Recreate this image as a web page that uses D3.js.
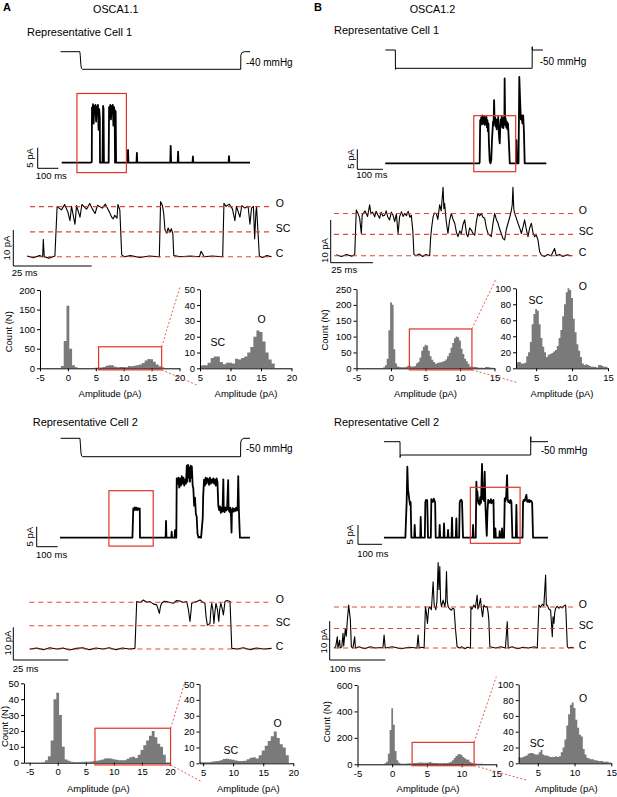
<!DOCTYPE html>
<html>
<head>
<meta charset="utf-8">
<script src="https://cdn.jsdelivr.net/npm/d3@7"></script>
<style>
body { margin: 0; background: #fff; }
text { font-family: "Liberation Sans", Arial, sans-serif; fill: #000; }
</style>
</head>
<body>
<script>
// ---------- data: [time (ms), value] ----------
// pressure steps (mmHg)
const a1Press = [[-5,0],[88,0],[90,-8],[93,-30],[96,-38],[100,-40],[869,-40],[869.5,-8],[875,-2],[887,0],[914,0]];
const b1Press = [[0,0],[39,0],[39.5,-53],[40.5,-50],[571,-50],[571.2,9],[571.4,0],[613,0]];
const a2Press = [[3,0],[95,0],[97,-15],[100,-40],[103,-48],[108,-50],[860,-50],[861,-10],[866,-3],[875,0],[905,0]];
const b2Press = [[0,0],[66.7,0],[67,-59],[68.5,-50],[611,-50],[611.2,19],[611.4,0],[683,0]];

// raw current traces (pA)
const a1Trace = [[0,0],[140,0],[146,0.2],[147,13.4],[150,11.5],[152,14.2],[155,9.5],[158,13.8],[161,12],[164,14],[167,10],[170,13.6],[173,12.5],[176,14],[179,8],[182,13],[185,11],[186,0],[198,0],[201,13.8],[203,13],[205,0],[228,0],[230,13.5],[233,11],[236,14],[239,10.5],[242,13.8],[245,12],[248,14],[251,9],[254,13.5],[257,12.5],[259,0],[261,0],[262,12.5],[264,0],[320,0],[322,3.1],[324,0],[363,0],[365,2.4],[367,0],[527,0],[529,4.1],[531,0],[563,0],[565,2.7],[567,0],[635,0],[637,1.5],[639,0],[810,0],[812,1.6],[814,0],[914,0]];
const b1Trace = [[0,0],[365,0],[367,0.3],[369,10.8],[371,9.5],[373,11.5],[375,10],[377,12],[379,9.8],[381,11.2],[383,10.3],[385,11.8],[387,9.6],[389,11],[391,10.2],[393,11.6],[395,9],[397,10.8],[399,8],[401,10],[403,5],[406,0.5],[409,0],[412,0.8],[415,6],[419,10.5],[421,9.5],[423,15.8],[425,10.2],[427,11.5],[429,9.2],[431,11],[433,8.5],[435,10.8],[437,9.5],[439,11.6],[441,8],[443,6],[445,5],[447,9],[449,11],[451,9.4],[453,11.8],[455,9],[457,10.6],[459,8.8],[461,11.5],[463,9.6],[464,21.2],[466,10],[468,11.2],[470,9],[472,10.5],[474,8.6],[477,10],[480,6],[484,0],[508,0],[510,5.8],[512,0],[518,0],[521,21.6],[524,16],[527,11],[530,12],[533,10],[536,12],[539,8],[542,0],[626,0]];
const a2Trace = [[0,0],[345,0],[349,7.3],[352,6.8],[356,7.6],[360,7],[364,7.5],[368,6.9],[372,7.4],[376,7],[380,7.3],[381,0],[503,0],[505,4.2],[507,0],[530,0],[532,1.5],[534,0],[546,0],[548,1.9],[550,0],[554,0],[556,14.8],[560,13.5],[564,15],[568,12.5],[572,14.8],[576,13],[580,15.4],[584,13.5],[588,15],[592,13],[596,14.5],[600,13.5],[604,18],[607,14],[610,18.2],[613,15],[616,17.5],[619,14],[622,18],[625,15],[628,17.8],[632,13],[635,12.4],[639,8],[643,10],[647,6],[651,5.3],[655,1],[660,0],[667,0.2],[672,0],[680,5],[682,10.4],[686,14.5],[690,13],[694,15],[698,13.5],[702,14.8],[706,14.6],[710,13.2],[714,15],[718,13.5],[722,14.5],[726,13.8],[730,14.8],[734,13.5],[738,14.6],[742,13],[746,14.8],[750,14],[754,8],[758,6.9],[762,7.8],[766,6.2],[770,7.5],[774,6.5],[778,14.6],[780,7],[784,6.4],[788,7.6],[792,6.8],[796,7.3],[801,14.4],[803,7],[807,6.5],[811,7.5],[815,5],[817,1.3],[819,6.8],[823,7.4],[827,6.5],[831,7.2],[835,6.7],[839,7.5],[843,6.8],[846,7],[849,15.4],[852,7],[857,0],[905,0]];
const b2Trace = [[0,0],[88.9,0],[94.4,9.3],[97.2,18.4],[100,12.5],[102.8,11.1],[105.5,9.8],[108.3,8.5],[111,9.2],[113.9,0],[126,0],[127.8,3.3],[130,0],[151,0],[152.8,5.4],[155,0],[170,0],[172.2,9.2],[175,9.8],[177.8,9.5],[180,9.7],[183.3,0],[195,0],[197.2,10],[200,9.4],[204.2,9.3],[207,10.1],[211.1,9.5],[213,9],[215.3,0],[230,0],[231.9,3.3],[234,0],[248,0],[250,3.7],[252,0],[265,0],[266.7,2],[268.5,0],[281,0],[283.3,5.2],[285.5,0],[299,0],[301.4,5],[303.5,0],[313,0],[315.3,9],[318,9.7],[322.2,9.8],[325,9.3],[329.2,0],[369,0],[371,3.3],[373,0],[382,0],[384.7,14.5],[387,10],[389,12],[391.7,9.3],[394,8.8],[396,9.6],[398.6,8.5],[401,10.5],[404,9],[408.3,19.1],[411,10],[413.9,11.1],[416,9.5],[419.4,17.1],[422,9],[424,6],[426.4,2.4],[428,0.5],[431,7],[434,9.8],[437,9],[440.3,9.5],[443,9.2],[445,10],[447.2,8.9],[450,9.6],[452,9.1],[454.2,9.3],[456,9.8],[458.3,0],[462,0],[463.9,2.4],[466,0],[480,0],[481.9,1.7],[484,0],[489.5,0],[491.7,2.4],[494,0],[500,0],[502.8,10.2],[506,9.5],[509,11],[512.5,16.2],[515,10],[518,9.2],[520.8,9.5],[524,9],[527,9.8],[530.6,9.3],[534.7,0],[549,0],[551.4,8.5],[553.5,0],[577,0],[579.2,9.3],[582,9.8],[586.1,9.5],[589,10.2],[593,11.1],[596,9.4],[600,9.3],[604,9.8],[607,9.2],[610,9.6],[613.9,9.5],[617,9],[620.8,0],[683,0]];

// expanded traces (pA)
const a1Zoom = [[0,0.2],[2,-0.3],[4,0.3],[5,0],[5.2,4.8],[5.5,0],[7,-0.4],[8.9,0.2],[9.6,13.9],[11,13],[12,14.5],[13,12.5],[13.7,10],[14.2,14],[15.3,9],[15.8,14.2],[16.9,11],[17.5,14.5],[19,13.2],[20,14.8],[21,13],[21.7,12],[22.5,14.3],[24,13.5],[25,14.6],[26.5,12],[27,11],[27.5,10.5],[28,11.5],[28.7,10.7],[29,14.5],[29.6,13],[30.2,0.5],[31,0],[33,0.3],[36,-0.2],[39,0.2],[42.2,0],[42.6,15.3],[43.2,14.2],[43.6,12],[44,7.5],[44.6,6.5],[45,8],[45.6,6.8],[46,7.8],[46.5,6.5],[46.8,0.3],[49,0],[52,0.2],[55,0],[55.5,1.5],[56.5,0],[59,0.2],[62.4,0],[62.8,14.8],[63.5,14],[64.5,14.6],[65.5,13.3],[66.3,10],[66.8,14],[67.9,11],[68.5,14.2],[69.5,13.5],[70.5,14],[71.1,9],[71.6,13.5],[72.2,14],[72.6,5],[73,12.5],[73.2,13.9],[74.1,0.2],[75,-0.2],[76.5,0.3],[78,0]];
const b1Zoom = [[0,0.2],[3,-0.2],[6,0.3],[9,-0.1],[10.9,0.2],[11.8,10.7],[12.8,9.9],[13.8,8.8],[14.8,5.2],[15.3,9.5],[17,10.5],[18.5,9.2],[19.7,11.9],[20.5,9.8],[21.5,10.2],[22.7,9.1],[23.5,10.4],[24.5,9.6],[25.6,8.75],[26.5,10.2],[27.5,9.3],[28.6,9.5],[29.5,10.5],[30.5,9],[31.5,8.4],[32.5,10.2],[33.5,9.5],[34.5,8],[35.5,9.8],[36.5,5.2],[37.4,9.1],[38.5,10.3],[39.5,9.2],[40.4,9.9],[41.5,9.4],[42.5,10.4],[43.5,9],[44.3,9.5],[45.2,6],[45.9,0.3],[47,0],[49,0.4],[51,-0.2],[53,0.3],[55.2,0],[55.8,4.5],[56.5,7],[57.2,9.1],[58,10],[59.1,9.9],[60,8.5],[61.1,11.9],[62,10.5],[63.1,16],[63.6,11],[64,12.3],[65,8],[66,5.2],[67,8.4],[68,9.9],[69,8.5],[70,7.6],[71,5.5],[71.9,4.45],[73,5.8],[73.9,5.2],[75,7.5],[75.9,8.4],[77,5],[77.8,4.45],[78.8,6.5],[79.8,6],[80.8,5.2],[81.8,4.8],[82.8,8],[83.7,9.9],[84.7,9.3],[85.7,9.9],[86.7,9],[87.7,8.75],[88.7,6.5],[89.7,5.2],[90.6,4.8],[91.6,4.45],[92.6,7.5],[93.6,9.9],[94.6,8.5],[95.6,7.6],[96.5,6.3],[97.5,5.2],[98.5,4],[99.5,3.7],[100.5,6.2],[101.5,7.6],[102.5,9],[103.5,10.7],[104,12],[104.4,16],[104.9,11],[105.4,9.9],[106.4,8.8],[107.4,7.6],[108.4,6.5],[109.4,5.2],[110.4,6.8],[111.3,8.4],[112.3,6.2],[113.3,4.45],[114.3,6.5],[115.3,7.6],[116.2,5.5],[117.2,4.45],[118.2,4.8],[119.2,3.7],[120.2,0.9],[121.2,0.15],[123,-0.2],[125,0.3],[127,0],[129,1.7],[130,0],[132,0.3],[134,-0.2],[136.5,0.2],[138.9,0]];
const a2Zoom = [[0,0],[3,0.3],[6,-0.2],[9,0.4],[12,0],[15,0.3],[18,-0.3],[21,0.2],[24,0.4],[27,-0.2],[30,0.3],[33,0],[36,0.4],[39,-0.2],[42,0.3],[45,0],[47.7,0.2],[48.5,14.5],[50,14.2],[51.5,15],[53,14.3],[54.5,14.5],[56,13.8],[57.6,13.5],[58.3,12],[58.8,10.9],[59.3,13],[59.8,14],[61,14.6],[62.1,14.5],[63.5,14.2],[65.2,14],[66.5,14.8],[68.2,14.7],[69.5,14.2],[71.2,14.5],[72,12],[72.7,8.4],[73.1,11],[73.5,14],[75,14.4],[75.8,14.5],[77.3,15],[78.5,14.3],[79.5,14],[80,10],[80.6,7.3],[81.2,7.5],[81.8,7.85],[82.2,12],[82.6,14],[83.1,12],[83.6,7.8],[84,11],[84.5,14],[85.2,12],[85.8,8.4],[86.2,12],[86.7,14],[87.3,12.5],[87.9,10.4],[88.6,14.5],[89.5,14.8],[90.2,14.7],[90.9,14.5],[91.7,0.2],[94,0],[97,0.4],[100,-0.2],[103,0.3],[106,0],[109.8,0.2]];
const b2Zoom = [[0,0],[3,0.3],[6,2.9],[7,0],[10.2,2],[11,0],[14,0.3],[16.2,3.8],[17.5,0.5],[20.4,5],[22,3],[24,7.2],[26.4,11],[29.4,7.2],[31.2,0.3],[34,0],[37.2,2.9],[38.5,0],[45,0.3],[55,-0.2],[65,0.3],[75,0],[88,0.2],[90,3.3],[92,0],[105,0.3],[120,-0.2],[135,0.2],[149,0],[151.1,3.3],[153,0],[158,0.2],[161.9,0],[164.3,10.6],[166,9],[167.9,6.3],[170,10],[172.1,10.6],[175,9.8],[178.1,17],[180,11],[181.1,10.6],[183,9.8],[185,12],[187.1,21.9],[188.5,15],[190.1,20.9],[191.5,12],[193.1,10.6],[196.1,12.3],[199.1,10.6],[200.5,12],[202.1,19.6],[203.5,12],[205.1,10.6],[208,10],[211.1,9.7],[213,10.2],[215.8,10],[218.2,5],[221.2,0.3],[225,0],[230,0.3],[235,-0.2],[240,0.2],[245.2,0],[246,10.6],[248,10],[251.2,11],[254,10.3],[257.2,13.6],[258.5,10],[260.2,10.6],[263.2,12.7],[265,10],[267,8],[269.2,11],[272,10.5],[275.2,10.6],[277,9],[278.2,7.2],[280,0.3],[290,0],[300,0.3],[308,0],[311.3,6.75],[313,0],[320,0.3],[330,-0.2],[340,0.2],[350,0],[360,0.3],[365.2,0],[368.2,11],[371,10.5],[374.2,11.2],[377,10.8],[380.2,18.7],[381.5,11],[383.2,11],[386,10],[389.2,9.7],[392.2,2.9],[393.5,8],[395.2,6.3],[396.5,9],[398.2,10.2],[401,10.7],[404,10.2],[407.2,10.6],[410,10.3],[413,10.8],[416.2,11],[419.2,0.3],[422,0],[426,0.2],[431,0]];

// current levels C, SC, O (pA)
const levelNames = ['C', 'SC', 'O'];
const a1Levels = [0, 6.9, 13.9];
const b1Levels = [0, 5.0, 9.9];
const a2Levels = [0, 7.1, 14.3];
const b2Levels = [0, 5.0, 10.5];

// amplitude histograms: counts per bin, bins centred from *Start in steps of *Bin (pA)
const a1Start = -1.5, a1Bin = 0.5;
const a1Counts = [0.5,6,70,160,50,8,3,1,0.4,0.4,0.4,0.4,0.4,1.5,2,2,3.5,6.5,7.5,7.5,4,2.5,3.5,3.5,3,6,5.5,6.5,7.5,10,13.5,20,24,23,17,10,5.5,3,0];
const b1Start = -1.25, b1Bin = 0.25;
const b1Counts = [1,3,10,30,120,208,200,60,15,6,4,3,3,3,5,8,8,6,6,7,15,20,33,55,68,74,72,55,38,27,20,14,17,18,19,21,23,28,38,48,65,80,95,100,98,88,62,45,30,22,14,6,4,5,4,3,2,2,2,1,4,4,3,2,2,1];
const a2Start = -2.5, a2Bin = 0.5;
const a2Counts = [0.3,1.5,4,14,40,44,30,10,2,1.2,0.6,0.5,0.5,0.5,0.6,0.6,0.6,0.7,1,1.3,1.5,2,2.7,2.8,2.6,2.2,1.8,1.5,1.5,1.6,2.5,3.5,3.8,3,5,8,11,14,17,20,16,12,10,5,0];
const b2Start = -1.25, b2Bin = 0.25;
const b2Counts = [3,8,20,80,260,425,300,100,30,12,7,5,5,6,7,8,7,8,9,10,12,13,13,12,11,11,14,17,11,10,10,9,8,8,8,9,8,9,14,20,30,48,62,74,77,70,55,45,36,34,18,11,7,6,5,5,4,4,3,3,3,2,2,2,1,1];

// tick values
const a1HistY = [0,50,100,150,200], a1InsetY = [0,10,20,30,40,50];
const b1HistY = [0,50,100,150,200,250], b1InsetY = [0,20,40,60,80,100];
const a2HistY = [0,10,20,30,40,50], a2InsetY = [0,10,20,30,40,50];
const b2HistY = [0,200,400,600], b2InsetY = [0,20,40,60,80,100];
const aAmpTicks = [-5,0,5,10,15,20], aInsetTicks = [5,10,15,20];
const bAmpTicks = [-5,0,5,10,15], bInsetTicks = [5,10,15];

// ---------- drawing ----------
const svg = d3.select('body').append('svg').attr('width', 617).attr('height', 797);
const red = '#e0342b';
const font = '"Liberation Sans", Arial, sans-serif';
let clipN = 0;

function label(g, x, y, s, size, anchor) {
  return g.append('text').attr('x', x).attr('y', y).attr('font-size', size || 10)
    .attr('text-anchor', anchor || 'start').text(s);
}
function vlabel(g, x, y, s, size) {
  return g.append('text').attr('transform', `translate(${x},${y}) rotate(-90)`)
    .attr('font-size', size || 10).attr('text-anchor', 'middle').text(s);
}
function scaleBar(g, x, y, w, h) {
  g.append('path').attr('d', `M${x},${y - h}V${y}H${x + w}`)
    .attr('fill', 'none').attr('stroke', '#000').attr('stroke-width', 1);
}
function line(xs, ys) {
  return d3.line().x(d => xs(d[0])).y(d => ys(d[1]));
}

function histo(g, counts, start, bw, xs, ys) {
  const pts = [];
  counts.forEach((n, i) => {
    const a = start + i * bw - bw / 2;
    pts.push([a, n], [a + bw, n]);
  });
  const id = 'clip' + (clipN++);
  const r = xs.range(), top = ys.range()[1];
  g.append('clipPath').attr('id', id).append('rect')
    .attr('x', r[0]).attr('y', top - 30).attr('width', r[1] - r[0]).attr('height', ys(0) - top + 30);
  const area = d3.area().x(d => xs(d[0])).y0(ys(0)).y1(d => ys(d[1]));
  g.append('path').attr('d', area(pts)).attr('fill', '#7a7a7a').attr('clip-path', `url(#${id})`);
}
function axes(g, xs, ys, xt, yt) {
  const fmt = d => String(d);
  g.append('g').attr('transform', `translate(0,${ys(0)})`)
    .call(d3.axisBottom(xs).tickValues(xt).tickFormat(fmt).tickSize(3).tickSizeOuter(0).tickPadding(3))
    .attr('font-size', 9.5).attr('font-family', font);
  g.append('g').attr('transform', `translate(${xs.range()[0]},0)`)
    .call(d3.axisLeft(ys).tickValues(yt).tickFormat(fmt).tickSize(3).tickSizeOuter(0).tickPadding(2))
    .attr('font-size', 9.5).attr('font-family', font);
}

function cell(c) {
  const g = svg.append('g');
  label(g, c.title[0], c.title[1], c.titleText, 11);

  // pressure + raw trace share the time axis
  const tx = d3.scaleLinear().domain(c.tDom).range(c.tRange);
  const ty = d3.scaleLinear().domain([0, 5]).range([c.base, c.base - 5 * c.pxA]);
  const py = d3.scaleLinear().domain([0, c.pLevel]).range(c.pY);
  g.append('path').attr('d', line(tx, py)(c.press))
    .attr('fill', 'none').attr('stroke', '#000').attr('stroke-width', 1);
  label(g, c.pLab[0], c.pLab[1], c.pText, 10);
  g.append('path').attr('d', line(tx, ty)(c.trace))
    .attr('fill', 'none').attr('stroke', '#000').attr('stroke-width', 1.8).attr('stroke-linejoin', 'round');
  g.append('rect').attr('x', tx(c.box[0])).attr('y', ty(c.box[3]))
    .attr('width', tx(c.box[1]) - tx(c.box[0])).attr('height', ty(c.box[2]) - ty(c.box[3]))
    .attr('fill', 'none').attr('stroke', red).attr('stroke-width', 1.2);
  scaleBar(g, c.bar[0], c.bar[1], tx(c.tDom[0] + 100) - tx(c.tDom[0]), ty(0) - ty(5));
  vlabel(g, c.barV[0], c.barV[1], '5 pA', 9.5);
  label(g, c.barH[0], c.barH[1], '100 ms', 9.5);

  // expanded trace
  const zx = d3.scaleLinear().domain(c.zDom).range(c.zRange);
  const zy = d3.scaleLinear().domain([0, 10]).range([c.zBase, c.zBase - 10 * c.zpxA]);
  g.append('path').attr('d', line(zx, zy)(c.zoom))
    .attr('fill', 'none').attr('stroke', '#000').attr('stroke-width', 1.1).attr('stroke-linejoin', 'round');
  c.levels.forEach((v, i) => {
    g.append('line').attr('x1', c.dash[0]).attr('x2', c.dash[1]).attr('y1', zy(v)).attr('y2', zy(v))
      .attr('stroke', red).attr('stroke-width', 1.1).attr('stroke-dasharray', '5,4').attr('opacity', 0.9);
    label(g, c.dash[1] + 4, zy(v) + 0.5, levelNames[i], 10.5);
  });
  scaleBar(g, c.zbar[0], c.zbar[1], zx(c.zDom[0] + c.zbarT) - zx(c.zDom[0]), zy(0) - zy(10));
  vlabel(g, c.zbarV[0], c.zbarV[1], '10 pA', 9.5);
  label(g, c.zbarH[0], c.zbarH[1], c.zbarT + ' ms', 9.5);

  // histogram
  const hx = d3.scaleLinear().domain(c.hxDom).range(c.hxRange);
  const hy = d3.scaleLinear().domain([0, c.hyMax]).range(c.hyRange);
  histo(g, c.counts, c.hStart, c.hBin, hx, hy);
  axes(g, hx, hy, c.hxTicks, c.hyTicks);
  g.append('rect').attr('x', hx(c.hBox[0])).attr('y', hy(c.hBox[3]))
    .attr('width', hx(c.hBox[1]) - hx(c.hBox[0])).attr('height', hy(c.hBox[2]) - hy(c.hBox[3]))
    .attr('fill', 'none').attr('stroke', red).attr('stroke-width', 1.2);
  g.append('line').attr('x1', hx(c.hBox[1])).attr('y1', hy(c.hBox[3])).attr('x2', c.link[0][0]).attr('y2', c.link[0][1])
    .attr('stroke', red).attr('stroke-width', 0.8).attr('stroke-dasharray', '2,2');
  g.append('line').attr('x1', hx(c.hBox[1])).attr('y1', hy(c.hBox[2])).attr('x2', c.link[1][0]).attr('y2', c.link[1][1])
    .attr('stroke', red).attr('stroke-width', 0.8).attr('stroke-dasharray', '2,2');

  const ix = d3.scaleLinear().domain(c.ixDom).range(c.ixRange);
  const iy = d3.scaleLinear().domain([0, c.iyMax]).range(c.iyRange);
  histo(g, c.counts, c.hStart, c.hBin, ix, iy);
  axes(g, ix, iy, c.ixTicks, c.iyTicks);
  label(g, ix(c.scPos[0]), iy(c.scPos[1]), 'SC', 10.5, 'middle');
  label(g, ix(c.oPos[0]), iy(c.oPos[1]), 'O', 10.5, 'middle');

  vlabel(g, c.countLab[0], c.countLab[1], 'Count (N)', 9.5);
  label(g, c.ampLab[0], c.ampLab[2], 'Amplitude (pA)', 9.5, 'middle');
  label(g, c.ampLab[1], c.ampLab[2], 'Amplitude (pA)', 9.5, 'middle');
}

// headers
label(svg, 3, 10.5, 'A', 11).attr('font-weight', 'bold');
label(svg, 93, 12.5, 'OSCA1.1', 10.8);
label(svg, 314, 10.5, 'B', 11).attr('font-weight', 'bold');
label(svg, 409.7, 12.5, 'OSCA1.2', 10.8);

cell({
  title: [27, 36], titleText: 'Representative Cell 1',
  press: a1Press, pLevel: -40, pY: [51.7, 69.3], pLab: [246, 66], pText: '-40 mmHg',
  trace: a1Trace, tDom: [0, 914], tRange: [61.7, 250], base: 162.7, pxA: 4.12,
  box: [74, 314, -2.4, 16.8], bar: [37.7, 168.3], barV: [33, 158], barH: [35.7, 179],
  zoom: a1Zoom, zDom: [0, 78], zRange: [27, 271.6], zBase: 256.7, zpxA: 3.6, levels: a1Levels,
  dash: [30, 271.7], zbar: [13.3, 266], zbarT: 25, zbarV: [9.5, 248], zbarH: [11.7, 276],
  counts: a1Counts, hStart: a1Start, hBin: a1Bin,
  hxDom: [-5, 20], hxRange: [40, 179.5], hyMax: 200, hyRange: [368.3, 290], hxTicks: aAmpTicks, hyTicks: a1HistY,
  hBox: [5.5, 16.8, -4, 55], link: [[180, 286.7], [197, 385]],
  ixDom: [5, 20], ixRange: [200, 291.5], iyMax: 50, iyRange: [368.3, 289.3], ixTicks: aInsetTicks, iyTicks: a1InsetY,
  scPos: [7.9, 14.3], oPos: [15.1, 28.5], countLab: [11.5, 331.7], ampLab: [110, 246, 396.5]
});

cell({
  title: [334, 34], titleText: 'Representative Cell 1',
  press: b1Press, pLevel: -50, pY: [50, 68.3], pLab: [539.7, 65], pText: '-50 mmHg',
  trace: b1Trace, tDom: [0, 626], tRange: [385.3, 546.3], base: 163.3, pxA: 4,
  box: [344, 507, -2.1, 11.9], bar: [357.3, 169.3], barV: [354, 159], barH: [356.3, 178.3],
  zoom: b1Zoom, zDom: [0, 138.9], zRange: [336.3, 571.3], zBase: 255.7, zpxA: 4.27, levels: b1Levels,
  dash: [334, 574.7], zbar: [330.7, 262.7], zbarT: 25, zbarV: [327.5, 250.5], zbarH: [331.3, 272.7],
  counts: b1Counts, hStart: b1Start, hBin: b1Bin,
  hxDom: [-5, 15], hxRange: [356.5, 494.5], hyMax: 250, hyRange: [368.3, 289], hxTicks: bAmpTicks, hyTicks: b1HistY,
  hBox: [2.66, 11.73, -5, 124], link: [[496.3, 278.3], [518, 382.7]],
  ixDom: [2.2, 15], ixRange: [516, 608], iyMax: 100, iyRange: [368.3, 288.3], ixTicks: bInsetTicks, iyTicks: b1InsetY,
  scPos: [4.95, 80.4], oPos: [11.5, 98], countLab: [328, 330], ampLab: [425.5, 562, 396.5]
});

cell({
  title: [32.7, 425.7], titleText: 'Representative Cell 2',
  press: a2Press, pLevel: -50, pY: [438.3, 456.7], pLab: [246, 452.3], pText: '-50 mmHg',
  trace: a2Trace, tDom: [0, 905], tRange: [60, 250], base: 537.7, pxA: 4,
  box: [233, 444, -2.1, 11.75], bar: [36.7, 546.7], barV: [33, 536.7], barH: [36, 558.3],
  zoom: a2Zoom, zDom: [0, 109.8], zRange: [30, 271.6], zBase: 649, zpxA: 3.27, levels: a2Levels,
  dash: [29.3, 271.7], zbar: [13.3, 660], zbarT: 25, zbarV: [10.5, 643], zbarH: [12.7, 672.3],
  counts: a2Counts, hStart: a2Start, hBin: a2Bin,
  hxDom: [-6, 20], hxRange: [24, 170], hyMax: 50, hyRange: [762.7, 683.3], hxTicks: aAmpTicks, hyTicks: a2HistY,
  hBox: [6.64, 20.1, -1.4, 21.7], link: [[185, 681.7], [201.7, 781.7]],
  ixDom: [4.4, 20], ixRange: [199.5, 293.3], iyMax: 50, iyRange: [763.3, 684], ixTicks: aInsetTicks, iyTicks: a2InsetY,
  scPos: [9.6, 5.9], oPos: [17.4, 22.7], countLab: [7.5, 726.5], ampLab: [98.3, 248.3, 791.7]
});

cell({
  title: [334, 425.7], titleText: 'Representative Cell 2',
  press: b2Press, pLevel: -50, pY: [441.7, 455], pLab: [540.7, 454.3], pText: '-50 mmHg',
  trace: b2Trace, tDom: [0, 683], tRange: [384, 548], base: 537.7, pxA: 3.86,
  box: [359.6, 566.7, -1.45, 13.06], bar: [358, 544.3], barV: [352.5, 534.7], barH: [357.3, 556.7],
  zoom: b2Zoom, zDom: [0, 431.2], zRange: [334, 574], zBase: 648, zpxA: 3.9, levels: b2Levels,
  dash: [334, 574.7], zbar: [329.7, 660], zbarT: 100, zbarV: [327, 641], zbarH: [329.7, 672.3],
  counts: b2Counts, hStart: b2Start, hBin: b2Bin,
  hxDom: [-5, 15], hxRange: [357.5, 496.3], hyMax: 600, hyRange: [764.3, 685], hxTicks: bAmpTicks, hyTicks: b2HistY,
  hBox: [2.87, 11.8, -10.6, 166], link: [[496.3, 676.7], [526.3, 780]],
  ixDom: [2.4, 15], ixRange: [518.7, 611.3], iyMax: 100, iyRange: [763.3, 684.3], ixTicks: bInsetTicks, iyTicks: b2InsetY,
  scPos: [4.9, 21], oPos: [11.15, 77], countLab: [330, 721.7], ampLab: [428, 566.3, 792]
});
</script>
</body>
</html>
